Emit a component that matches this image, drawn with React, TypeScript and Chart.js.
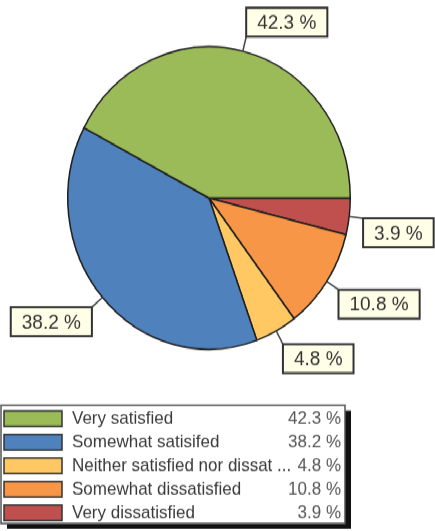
import React, { useEffect, useRef } from "react";
import { Chart, registerables } from "chart.js";

Chart.register(...registerables);

// ---- data (legend order) ----
const categories = [
  "Very satisfied",
  "Somewhat satisifed",
  "Neither satisfied nor dissatisfied",
  "Somewhat dissatisfied",
  "Very dissatisfied",
];
const legendLabels = [
  "Very satisfied",
  "Somewhat satisifed",
  "Neither satisfied nor dissat ...",
  "Somewhat dissatisfied",
  "Very dissatisfied",
];
const values = [42.3, 38.2, 4.8, 10.8, 3.9];
const valueLabels = ["42.3 %", "38.2 %", "4.8 %", "10.8 %", "3.9 %"];
const colors = ["#9BBB59", "#4F81BD", "#FFC863", "#F79646", "#C0504D"];

const W = 435;
const H = 496;
const STRETCH = 531 / 496;
const FONT = '"Liberation Sans", Arial, sans-serif';

const calloutPlugin = {
  id: "callouts",
  afterDatasetsDraw(chart: any) {
    const ctx = chart.ctx;
    const meta = chart.getDatasetMeta(0);
    const ds = chart.data.datasets[0];
    ctx.save();
    ctx.font = `19px ${FONT}`;
    meta.data.forEach((arc: any, i: number) => {
      const p = arc.getProps(["x", "y", "startAngle", "endAngle", "outerRadius"], true);
      const mid = (p.startAngle + p.endAngle) / 2;
      const dx = Math.cos(mid);
      const dy = Math.sin(mid);
      const sx = p.x + dx * p.outerRadius;
      const sy = p.y + dy * p.outerRadius;
      const ex = sx + dx * 14;
      const ey = sy + dy * 14;
      const text = ds.valueLabels[i];
      const tw = ctx.measureText(text).width;
      const bw = tw + 22;
      const bh = 27;
      const left = dx >= 0 ? ex : ex - bw;
      const top = dy < 0 ? ey - bh : ey;
      // leader
      ctx.strokeStyle = "#444";
      ctx.lineWidth = 1.5;
      ctx.beginPath();
      ctx.moveTo(sx, sy);
      ctx.lineTo(ex, ey);
      ctx.stroke();
      // box
      ctx.fillStyle = "#FFFFE8";
      ctx.fillRect(left, top, bw, bh);
      ctx.strokeStyle = "#333";
      ctx.lineWidth = 2;
      ctx.strokeRect(left, top, bw, bh);
      ctx.fillStyle = "#333";
      ctx.textAlign = "center";
      ctx.textBaseline = "middle";
      ctx.fillText(text, left + bw / 2, top + bh / 2 + 1);
    });
    ctx.restore();
  },
};

const legendPlugin = {
  id: "boxLegend",
  afterDraw(chart: any) {
    const ctx = chart.ctx;
    const ds = chart.data.datasets[0];
    const n = ds.data.length;
    const x1 = 1, x2 = 345, y1 = 378.5, y2 = 489;
    ctx.save();
    // shadow
    ctx.fillStyle = "#111";
    ctx.fillRect(x1 + 6, y1 + 5, x2 - x1, y2 - y1);
    ctx.fillStyle = "#fff";
    ctx.fillRect(x1, y1, x2 - x1, y2 - y1);
    ctx.strokeStyle = "#555";
    ctx.lineWidth = 1.5;
    ctx.strokeRect(x1, y1, x2 - x1, y2 - y1);
    ctx.font = `17px ${FONT}`;
    ctx.textBaseline = "middle";
    for (let k = 0; k < n; k++) {
      const idx = n - 1 - k; // dataset is reversed
      const by = 383.8 + 22 * k;
      ctx.fillStyle = ds.backgroundColor[idx];
      ctx.fillRect(4, by, 58, 14.5);
      ctx.strokeStyle = "#333";
      ctx.lineWidth = 1.5;
      ctx.strokeRect(4, by, 58, 14.5);
      ctx.fillStyle = "#3a3a3a";
      ctx.textAlign = "left";
      ctx.fillText(ds.legendLabels[idx], 72, by + 7.5);
      ctx.fillStyle = "#555";
      ctx.textAlign = "right";
      ctx.fillText(ds.valueLabels[idx], 341, by + 7.5);
    }
    ctx.restore();
  },
};

export default function App() {
  const ref = useRef<HTMLCanvasElement>(null);
  useEffect(() => {
    if (!ref.current) return;
    const rev = <T,>(a: T[]) => a.slice().reverse();
    const chart = new Chart(ref.current, {
      type: "pie",
      data: {
        labels: rev(categories),
        datasets: [
          {
            data: rev(values),
            backgroundColor: rev(colors),
            borderColor: "#1e1e1e",
            borderWidth: 1.5,
            // extra props used by plugins
            valueLabels: rev(valueLabels),
            legendLabels: rev(legendLabels),
          } as any,
        ],
      },
      options: {
        responsive: false,
        animation: false,
        rotation: 90,
        layout: { padding: { left: 67, right: 84, top: 43, bottom: 169 } },
        plugins: {
          legend: { display: false },
          tooltip: { enabled: false },
        },
      },
      plugins: [calloutPlugin, legendPlugin],
    });
    return () => chart.destroy();
  }, []);
  return (
    <div
      style={{
        position: "absolute",
        left: 0,
        top: 0,
        width: W,
        height: H,
        background: "#fff",
        transform: `scaleY(${STRETCH})`,
        transformOrigin: "0 0",
      }}
    >
      <canvas ref={ref} width={W} height={H} />
    </div>
  );
}
